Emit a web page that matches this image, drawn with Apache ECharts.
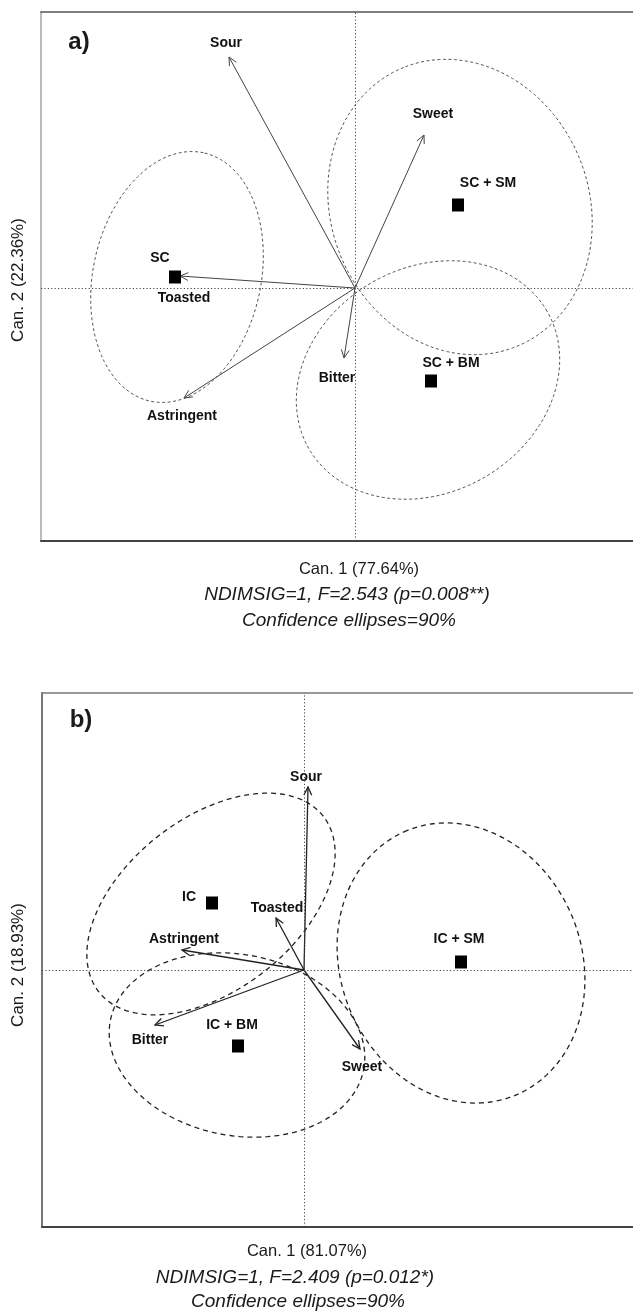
<!DOCTYPE html>
<html><head><meta charset="utf-8">
<script src="https://cdn.jsdelivr.net/npm/echarts@6/dist/echarts.min.js"></script>
<style>html,body{margin:0;padding:0;background:#fff}#c{width:633px;height:1311px}</style>
</head><body><div id="c"></div><script>
// ---------- Panel a ----------
const aGroups = ['SC', 'SC + SM', 'SC + BM'];
const aGroupX = [-3.60, 2.06, 1.52];
const aGroupY = [0.22, 1.66, -1.86];
const aAttrs = ['Sour', 'Sweet', 'Toasted', 'Astringent', 'Bitter'];
const aAttrX = [-2.52, 1.38, -3.50, -3.42, -0.22];
const aAttrY = [4.62, 3.06, 0.24, -2.20, -1.40];
const aEllCx = [-3.56, 2.10, 1.46];
const aEllCy = [0.22, 1.62, -1.84];
const aEllA = [2.54, 3.01, 2.75];
const aEllB = [1.68, 2.58, 2.25];
const aEllAngle = [78, 112, 30];
// ---------- Panel b ----------
const bGroups = ['IC', 'IC + SM', 'IC + BM'];
const bGroupX = [-1.84, 3.14, -1.32];
const bGroupY = [1.34, 0.16, -1.52];
const bAttrs = ['Sour', 'Toasted', 'Astringent', 'Bitter', 'Sweet'];
const bAttrX = [0.08, -0.56, -2.44, -2.98, 1.12];
const bAttrY = [3.66, 1.04, 0.40, -1.10, -1.58];
const bEllCx = [-1.86, 3.14, -1.34];
const bEllCy = [1.32, 0.14, -1.50];
const bEllA = [2.85, 2.86, 2.58];
const bEllB = [1.72, 2.41, 1.81];
const bEllAngle = [38, 112, -11];

// label offsets (pixels, style only)
const aGroupOff = [[-15, -19], [30, -22], [20, -18]];
const aAttrOff = [[-3, -14], [9, -21], [4, 22], [-2, 18], [-7, 20]];
const bGroupOff = [[-23, -6], [-2, -23], [-6, -21]];
const bAttrOff = [[-2, -10], [1, -10], [2, -11], [-5, 15], [2, 18]];

const FONT = '"Liberation Sans", Arial, sans-serif';

function ellipseSeries(gi, cx, cy, A, B, ang, st) {
  return {
    type: 'custom', xAxisIndex: gi * 2, yAxisIndex: gi, silent: true, z: 2,
    data: cx.map((v, i) => [v, cy[i], A[i], B[i], ang[i]]),
    encode: { x: 0, y: 1 },
    renderItem(params, api) {
      const x0 = api.value(0), y0 = api.value(1), a = api.value(2), b = api.value(3), t = api.value(4) * Math.PI / 180;
      const pts = [];
      for (let k = 0; k <= 200; k++) {
        const s = k / 200 * 2 * Math.PI;
        const ex = a * Math.cos(s), ey = b * Math.sin(s);
        pts.push(api.coord([x0 + ex * Math.cos(t) - ey * Math.sin(t), y0 + ex * Math.sin(t) + ey * Math.cos(t)]));
      }
      return { type: 'polyline', shape: { points: pts }, style: { fill: null, stroke: st.color, lineWidth: st.width, lineDash: st.dash } };
    }
  };
}

function textEl(x, y, text) {
  return { type: 'text', x, y, style: { text, font: 'bold 14px ' + FONT, fill: '#111', align: 'center', verticalAlign: 'middle' } };
}

function arrowSeries(gi, names, xs, ys, offs, st) {
  return {
    type: 'custom', xAxisIndex: gi * 2, yAxisIndex: gi, silent: true, z: 3,
    data: xs.map((v, i) => [v, ys[i]]),
    encode: { x: 0, y: 1 },
    renderItem(params, api) {
      const o = api.coord([0, 0]);
      const p = api.coord([api.value(0), api.value(1)]);
      const ang = Math.atan2(p[1] - o[1], p[0] - o[0]);
      const L = 9, h = Math.PI / 7;
      const h1 = [p[0] - L * Math.cos(ang - h), p[1] - L * Math.sin(ang - h)];
      const h2 = [p[0] - L * Math.cos(ang + h), p[1] - L * Math.sin(ang + h)];
      const off = offs[params.dataIndex];
      return {
        type: 'group', children: [
          { type: 'line', shape: { x1: o[0], y1: o[1], x2: p[0], y2: p[1] }, style: { stroke: st.color, lineWidth: st.width } },
          { type: 'polyline', shape: { points: [h1, p, h2] }, style: { fill: null, stroke: st.color, lineWidth: st.width } },
          textEl(p[0] + off[0], p[1] + off[1], names[params.dataIndex])
        ]
      };
    }
  };
}

function groupSeries(gi, names, xs, ys, offs, cross) {
  return {
    type: 'custom', xAxisIndex: gi * 2, yAxisIndex: gi, z: 4, silent: true,
    data: xs.map((v, i) => [v, ys[i]]),
    encode: { x: 0, y: 1 },
    renderItem(params, api) {
      const p = api.coord([api.value(0), api.value(1)]);
      const off = offs[params.dataIndex];
      return {
        type: 'group', children: [
          { type: 'rect', shape: { x: p[0] - 6, y: p[1] - 6.5, width: 12, height: 13 }, style: { fill: '#000' } },
          textEl(p[0] + off[0], p[1] + off[1], names[params.dataIndex])
        ]
      };
    },
    markLine: {
      silent: true, symbol: ['none', 'none'], label: { show: false },
      lineStyle: { color: cross.color, width: 1, type: [1.2, 2.2], opacity: 1 },
      data: [{ xAxis: 0 }, { yAxis: 0 }]
    }
  };
}

function xAxes(gi, min, max, bottomCol, topCol) {
  const base = { type: 'value', gridIndex: gi, min, max, axisLabel: { show: false }, axisTick: { show: false }, splitLine: { show: false } };
  return [
    Object.assign({}, base, { position: 'bottom', axisLine: { show: true, onZero: false, lineStyle: { color: bottomCol, width: 2 } } }),
    Object.assign({}, base, { position: 'top', axisLine: { show: true, onZero: false, lineStyle: { color: topCol, width: 1.5 } } })
  ];
}
function yAxis(gi, min, max, col) {
  return { type: 'value', gridIndex: gi, min, max, position: 'left', axisLabel: { show: false }, axisTick: { show: false }, splitLine: { show: false },
    axisLine: { show: true, onZero: false, lineStyle: { color: col, width: 2 } } };
}

function txt(x, y, text, font, rot) {
  return { type: 'text', x, y, rotation: rot || 0, style: { text, font, fill: '#1a1a1a', align: 'center', verticalAlign: 'middle' } };
}

const aStyleEll = { color: '#555', width: 1, dash: [3, 2.5] };
const bStyleEll = { color: '#222', width: 1.3, dash: [5, 4] };

const option = {
  animation: false,
  backgroundColor: '#fff',
  grid: [
    { left: 41, top: 12, right: 0, height: 529 },
    { left: 42, top: 693, right: 0, height: 534 }
  ],
  xAxis: [].concat(xAxes(0, -6.28, 5.56, '#444', '#555'), xAxes(1, -5.24, 6.58, '#444', '#777')),
  yAxis: [yAxis(0, -5.06, 5.52, '#bbb'), yAxis(1, -5.14, 5.54, '#777')],
  series: [
    ellipseSeries(0, aEllCx, aEllCy, aEllA, aEllB, aEllAngle, aStyleEll),
    arrowSeries(0, aAttrs, aAttrX, aAttrY, aAttrOff, { color: '#444', width: 1 }),
    groupSeries(0, aGroups, aGroupX, aGroupY, aGroupOff, { color: '#444' }),
    ellipseSeries(1, bEllCx, bEllCy, bEllA, bEllB, bEllAngle, bStyleEll),
    arrowSeries(1, bAttrs, bAttrX, bAttrY, bAttrOff, { color: '#222', width: 1.3 }),
    groupSeries(1, bGroups, bGroupX, bGroupY, bGroupOff, { color: '#444' })
  ],
  graphic: [
    txt(79, 42, 'a)', 'bold 24px ' + FONT),
    txt(18, 280, 'Can. 2 (22.36%)', '17px ' + FONT, Math.PI / 2),
    txt(359, 569, 'Can. 1 (77.64%)', '16.5px ' + FONT),
    txt(347, 595, 'NDIMSIG=1, F=2.543 (p=0.008**)', 'italic 19px ' + FONT),
    txt(349, 621, 'Confidence ellipses=90%', 'italic 19px ' + FONT),
    txt(81, 720, 'b)', 'bold 24px ' + FONT),
    txt(18, 965, 'Can. 2 (18.93%)', '17px ' + FONT, Math.PI / 2),
    txt(307, 1251, 'Can. 1 (81.07%)', '16.5px ' + FONT),
    txt(295, 1278, 'NDIMSIG=1, F=2.409 (p=0.012*)', 'italic 19px ' + FONT),
    txt(298, 1302, 'Confidence ellipses=90%', 'italic 19px ' + FONT)
  ]
};
const chart = echarts.init(document.getElementById('c'), null, { renderer: 'canvas' });
chart.setOption(option);
</script></body></html>
